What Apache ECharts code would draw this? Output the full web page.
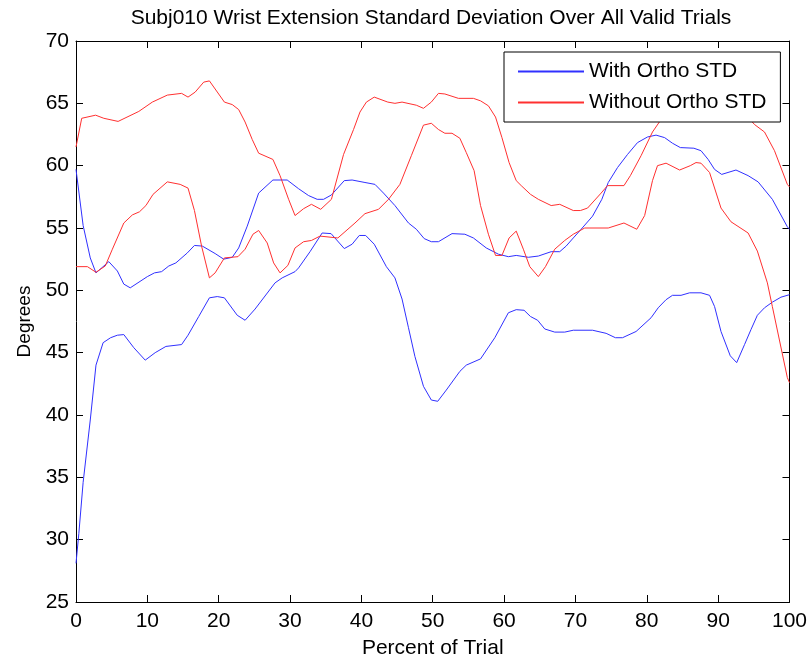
<!DOCTYPE html>
<html>
<head>
<meta charset="utf-8">
<script src="https://cdn.jsdelivr.net/npm/echarts@6/dist/echarts.min.js"></script>
<style>
  html, body { margin: 0; padding: 0; background: #fff; }
  #chart { width: 810px; height: 664px; }
</style>
</head>
<body>
<div id="chart"></div>
<script>
// Wrist extension mean ± standard deviation envelopes (degrees) vs percent of trial.
const titleText = 'Subj010 Wrist Extension Standard Deviation Over All Valid Trials';
const xName = 'Percent of Trial';
const yName = 'Degrees';
const nameWith = 'With Ortho STD';
const nameWithout = 'Without Ortho STD';

// With orthosis, upper envelope
const withHiX = [0, 1, 2, 2.8, 4.6, 5.8, 6.7, 7.6, 10, 11, 12, 13, 14, 15.6, 16.6, 17.7, 19.5, 20.7, 21.9, 22.8, 24, 25.6, 27.6, 29.6, 31.2, 32.6, 33.8, 34.7, 35.8, 37.6, 38.7, 40.5, 41.9, 43.1, 44.7, 46.6, 47.7, 48.8, 49.8, 50.8, 52.7, 54.5, 55.7, 57.5, 59.2, 60.6, 61.7, 63.4, 64.8, 66.6, 67.8, 68.7, 69.7, 70.8, 72.4, 73.7, 74.6, 75.9, 77.3, 78.7, 80.1, 81.3, 82.5, 83.6, 84.7, 86.6, 87.6, 88.6, 89.5, 90.5, 92.5, 94.2, 95.6, 97.6, 99.7, 100];
const withHiY = [59.7, 55.2, 52.6, 51.4, 52.3, 51.55, 50.5, 50.2, 51.1, 51.4, 51.5, 51.95, 52.2, 53.0, 53.6, 53.55, 52.95, 52.5, 52.65, 53.4, 55.15, 57.8, 58.85, 58.85, 58.15, 57.6, 57.3, 57.3, 57.65, 58.8, 58.85, 58.65, 58.5, 57.8, 56.8, 55.4, 54.9, 54.15, 53.9, 53.9, 54.55, 54.5, 54.2, 53.4, 52.9, 52.7, 52.8, 52.65, 52.75, 53.1, 53.1, 53.55, 54.2, 54.9, 55.95, 57.3, 58.65, 59.85, 60.9, 61.85, 62.3, 62.45, 62.25, 61.8, 61.45, 61.4, 61.2, 60.5, 59.7, 59.3, 59.65, 59.2, 58.7, 57.3, 55.1, 54.9];

// With orthosis, lower envelope
const withLoX = [0, 0.4, 1, 2, 2.8, 3.8, 4.85, 5.8, 6.7, 8.1, 9.7, 11.1, 12.6, 14.8, 15.7, 17.2, 18.7, 19.8, 20.8, 22.6, 23.7, 25.1, 27.9, 28.9, 30.7, 31.2, 32.8, 34.5, 35.75, 37.6, 38.7, 39.7, 40.6, 41.8, 43.5, 44.7, 45.7, 46.6, 47.5, 48.7, 49.8, 50.7, 51.9, 53.8, 54.7, 56.7, 58.7, 60.6, 61.7, 62.8, 63.7, 64.7, 65.7, 67.1, 68.5, 69.7, 72.4, 74.3, 75.6, 76.6, 78.5, 80.6, 81.6, 82.7, 83.6, 84.8, 86.0, 87.6, 88.8, 89.5, 90.4, 91.7, 92.6, 93.7, 94.6, 95.5, 96.5, 97.6, 98.8, 100];
const withLoY = [28.1, 30.5, 34.6, 39.6, 44.0, 45.8, 46.2, 46.4, 46.45, 45.4, 44.4, 45.0, 45.5, 45.65, 46.4, 47.9, 49.4, 49.5, 49.4, 48.0, 47.6, 48.5, 50.6, 51.0, 51.5, 51.8, 53.1, 54.6, 54.55, 53.35, 53.7, 54.4, 54.4, 53.7, 51.9, 51.0, 49.3, 47.0, 44.7, 42.3, 41.2, 41.1, 42.0, 43.5, 44.0, 44.5, 46.2, 48.2, 48.45, 48.4, 47.9, 47.6, 46.9, 46.65, 46.65, 46.8, 46.8, 46.55, 46.2, 46.2, 46.7, 47.8, 48.6, 49.25, 49.6, 49.6, 49.8, 49.8, 49.6, 48.7, 46.7, 44.75, 44.2, 45.65, 46.85, 48.0, 48.6, 49.05, 49.45, 49.65];

// Without orthosis, upper envelope
const withoutHiX = [0, 0.8, 2.75, 3.9, 5.9, 8.8, 10.7, 12.8, 14.8, 15.7, 16.7, 17.9, 18.7, 20.8, 21.9, 22.8, 23.7, 24.7, 25.6, 27.6, 28.6, 29.8, 30.7, 31.9, 33.0, 34.3, 35.8, 37.5, 38.9, 39.8, 40.7, 41.8, 43.7, 44.7, 45.7, 47.7, 48.7, 49.8, 50.8, 51.7, 53.6, 55.7, 56.7, 57.8, 58.8, 59.7, 60.7, 61.7, 62.4, 63.7, 64.8, 66.6, 67.8, 69.7, 70.7, 71.7, 73.6, 74.5, 76.8, 77.7, 79.2, 80.8, 82.0, 84, 86, 88, 90, 92, 94, 95.1, 96.5, 97.9, 99.7, 100];
const withoutHiY = [61.5, 63.8, 64.05, 63.8, 63.55, 64.35, 65.1, 65.66, 65.8, 65.5, 65.9, 66.7, 66.8, 65.1, 64.9, 64.5, 63.5, 62.1, 61.0, 60.5, 59.2, 57.3, 56.0, 56.55, 56.9, 56.5, 57.3, 60.9, 62.9, 64.3, 65.1, 65.5, 65.1, 65.0, 65.1, 64.85, 64.6, 65.1, 65.8, 65.75, 65.4, 65.4, 65.2, 64.8, 63.9, 62.25, 60.25, 58.8, 58.4, 57.7, 57.3, 56.8, 56.9, 56.4, 56.4, 56.6, 57.8, 58.4, 58.4, 59.2, 60.8, 62.7, 63.7, 64.8, 65.5, 65.7, 65.4, 64.8, 64.0, 63.3, 62.7, 61.2, 58.5, 58.3];

// Without orthosis, lower envelope
const withoutLoX = [0, 1.6, 2.8, 4.1, 5.1, 6.7, 7.9, 8.9, 9.8, 10.8, 12.8, 14.6, 15.7, 16.6, 17.6, 18.7, 19.5, 20.8, 22.7, 23.7, 24.8, 25.6, 26.8, 27.7, 28.6, 29.7, 30.7, 31.9, 33.0, 34.2, 36.7, 37.7, 39.1, 40.5, 42.4, 43.8, 45.4, 47.0, 48.7, 49.8, 50.8, 51.7, 52.7, 53.8, 54.7, 55.8, 56.7, 57.8, 58.8, 59.7, 60.7, 61.7, 62.7, 63.6, 64.8, 65.8, 67.1, 68.5, 69.7, 71.3, 74.6, 76.8, 78.6, 79.7, 80.8, 81.5, 82.7, 84.6, 86.1, 86.9, 87.6, 88.8, 90.4, 91.8, 94.2, 95.5, 96.9, 97.6, 99.7, 100];
const withoutLoY = [51.9, 51.9, 51.45, 51.95, 53.3, 55.4, 56.05, 56.3, 56.8, 57.7, 58.7, 58.5, 58.2, 56.4, 53.55, 51.0, 51.4, 52.6, 52.7, 53.3, 54.5, 54.8, 53.8, 52.2, 51.4, 52.0, 53.4, 53.9, 54.0, 54.35, 54.2, 54.7, 55.4, 56.15, 56.5, 57.3, 58.5, 60.8, 63.25, 63.4, 62.9, 62.6, 62.6, 62.2, 61.05, 59.6, 56.8, 54.5, 52.8, 52.8, 54.2, 54.75, 53.3, 51.9, 51.1, 51.9, 53.3, 54.0, 54.5, 55.0, 55.0, 55.4, 54.9, 56.0, 58.8, 60.0, 60.2, 59.65, 60.0, 60.25, 60.2, 59.45, 56.6, 55.5, 54.6, 53.15, 50.6, 48.7, 43.0, 42.6];

const xMin = 0, xMax = 100, xStep = 10;
const yMin = 25, yMax = 70, yStep = 5;

const FONT = "'Liberation Sans', Arial, sans-serif";
const BLUE = '#3030ff';
const RED = '#ff3030';

function pairs(xs, ys) { return xs.map((x, i) => [x, ys[i]]); }

function lineSeries(name, color, xs, ys) {
  return {
    type: 'line',
    name: name,
    xAxisIndex: 0,
    yAxisIndex: 0,
    data: pairs(xs, ys),
    showSymbol: false,
    symbol: 'none',
    smooth: false,
    lineStyle: { color: color, width: 1 },
    itemStyle: { color: color },
    emphasis: { disabled: true },
    z: 2
  };
}

const axisText = { color: '#000', fontFamily: FONT, fontSize: 21 };

function boxAxis(extra) {
  return Object.assign({
    type: 'value',
    axisLine: { show: true, onZero: false, lineStyle: { color: '#000', width: 1 } },
    axisTick: { show: true, inside: true, length: 7, lineStyle: { color: '#000', width: 1 } },
    splitLine: { show: false },
    minorTick: { show: false }
  }, extra);
}

const chart = echarts.init(document.getElementById('chart'), null, { renderer: 'canvas' });

chart.setOption({
  animation: false,
  backgroundColor: '#fff',
  title: {
    text: titleText,
    left: 431,
    textAlign: 'center',
    top: 8,
    padding: 0,
    textStyle: { color: '#000', fontFamily: FONT, fontSize: 21, fontWeight: 'normal' }
  },
  grid: { left: 76, right: 20, top: 41, bottom: 61, containLabel: false },
  legend: {
    orient: 'vertical',
    left: 504,
    top: 52,
    padding: [9, 14, 9, 13],
    itemGap: 10,
    itemWidth: 66,
    itemHeight: 14,
    backgroundColor: '#fff',
    borderColor: '#000',
    borderWidth: 1,
    borderRadius: 0,
    selectedMode: false,
    itemStyle: { opacity: 0 },
    data: [nameWith, nameWithout],
    textStyle: { color: '#000', fontFamily: FONT, fontSize: 21 },
    z: 10
  },
  xAxis: [
    boxAxis({
      position: 'bottom', min: xMin, max: xMax, interval: xStep,
      axisLabel: Object.assign({ margin: 9 }, axisText),
      name: xName, nameLocation: 'middle', nameGap: 36,
      nameTextStyle: axisText
    }),
    boxAxis({
      position: 'top', min: xMin, max: xMax, interval: xStep,
      axisLabel: { show: false }
    })
  ],
  yAxis: [
    boxAxis({
      position: 'left', min: yMin, max: yMax, interval: yStep,
      axisLabel: Object.assign({ margin: 7 }, axisText),
      name: yName, nameLocation: 'middle', nameGap: 35,
      nameTextStyle: { color: '#000', fontFamily: FONT, fontSize: 19 }
    }),
    boxAxis({
      position: 'right', min: yMin, max: yMax, interval: yStep,
      axisLabel: { show: false }
    })
  ],
  series: [
    lineSeries(nameWith, BLUE, withHiX, withHiY),
    lineSeries(nameWith, BLUE, withLoX, withLoY),
    lineSeries(nameWithout, RED, withoutHiX, withoutHiY),
    lineSeries(nameWithout, RED, withoutLoX, withoutLoY)
  ]
});
</script>
</body>
</html>
